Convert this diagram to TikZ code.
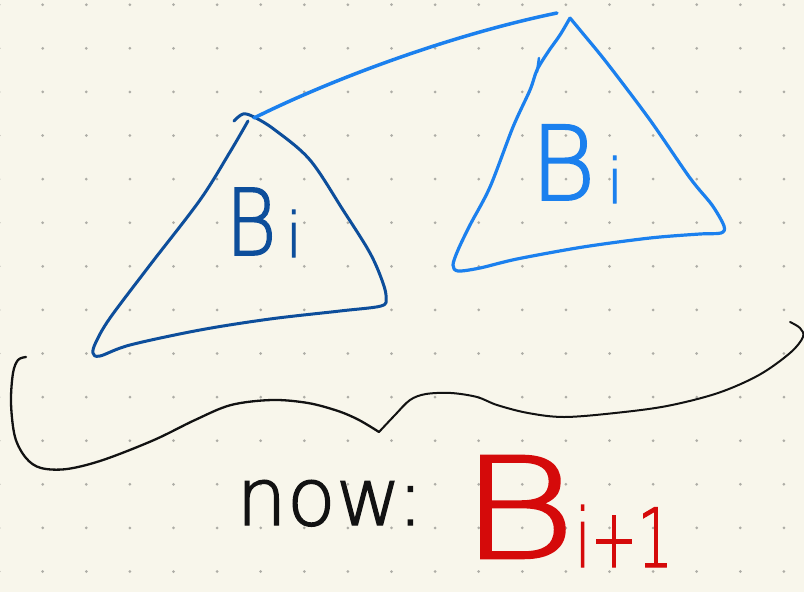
\documentclass[tikz,border=0pt]{standalone}
\usepackage{fontspec}
\newfontfamily\hand{DejaVu Sans ExtraLight}[FakeBold=1.8]
\definecolor{bg}{HTML}{F8F6EB}
\definecolor{dotc}{HTML}{AEADA6}
\definecolor{dblue}{HTML}{0D4E9B}
\definecolor{lblue}{HTML}{1B80EE}
\definecolor{hred}{HTML}{D50A0A}
\definecolor{inkc}{HTML}{121212}
\tikzset{
  pen/.style={line width=#1, line cap=round, line join=round},
  txt/.style={inner sep=0pt, anchor=base},
}
\begin{document}
\begin{tikzpicture}[x=1pt,y=-1pt]
\fill[bg] (0,0) rectangle (804,592);
\useasboundingbox (0,0) rectangle (804,592);
% dot grid
\foreach \i in {0,...,18}
  \foreach \j in {0,...,13}
    \fill[dotc] ({-0.9+43.6*\i},{4.7+43.6*\j}) circle[radius=1.5pt];

% dark blue triangle
\draw[dblue, pen=3pt] plot[smooth, tension=0.55] coordinates {
 (234,121) (243,114) (254,117) (275,130) (310,160) (343,210) (370,253)
 (383,283) (386,298) (381,306) (340,311) (270,319) (200,330) (130,345)
 (100,356) (93,353) (96,342) (110,318) (150,265) (200,200) (230,152) (248,121)};

% light blue connector
\draw[lblue, pen=3.5pt] (254,118) .. controls (330,80) and (450,35) .. (557,13);

% light blue triangle
\draw[lblue, pen=3.2pt] plot[smooth, tension=0.5] coordinates {
 (570,18) (560,35) (548,52) (537,70) (530,90) (513,127) (490,187) (470,225)
 (458,250) (453,265) (458,271) (480,268) (517,259) (583,247) (650,238)
 (700,234) (721,233) (724,226) (712,205) (690,178) (650,120) (607,63)
 (580,30) (570,18)};
\draw[lblue, pen=2.5pt] (539,58) -- (537,72);

% black brace
\draw[inkc, pen=2.3pt] plot[smooth, tension=0.55] coordinates {
 (26,357) (18,360) (13,373) (11,403) (15,437) (26,458) (41,468) (67,469)
 (103,460) (154,440) (195,420) (231,405) (272,400) (308,403) (338,411)
 (359,420) (379,432)};
\draw[inkc, pen=2pt] plot[smooth, tension=0.55] coordinates {
 (379,432) (395,415) (410,400) (426,394) (451,393) (477,397) (497,405)
 (528,413) (564,417) (615,413) (667,406) (718,393) (759,375) (790,353)
 (803,337) (800,328) (790,322)};

% texts
\node[txt, dblue, font=\hand\fontsize{92}{92}\selectfont, xscale=0.85] (b1) at (251,255) {B};
\node[txt, dblue, font=\hand\fontsize{62}{62}\selectfont] (i1) at (294,257) {i};
\node[txt, lblue, font=\hand\fontsize{103}{103}\selectfont, xscale=0.97] (b2) at (563,200) {B};
\node[txt, lblue, font=\hand\fontsize{62}{62}\selectfont] (i2) at (615,203) {i};
\node[txt, inkc, font=\hand\fontsize{80}{80}\selectfont] (now) at (330,525) {now:};
\node[txt, hred, font=\hand\fontsize{140}{140}\selectfont, xscale=1.27] (b3) at (518,558) {B};
\node[txt, hred, font=\hand\fontsize{68}{68}\selectfont, xscale=0.82, yscale=1.2] (i3) at (624,567) {i+1};
\end{tikzpicture}
\end{document}
